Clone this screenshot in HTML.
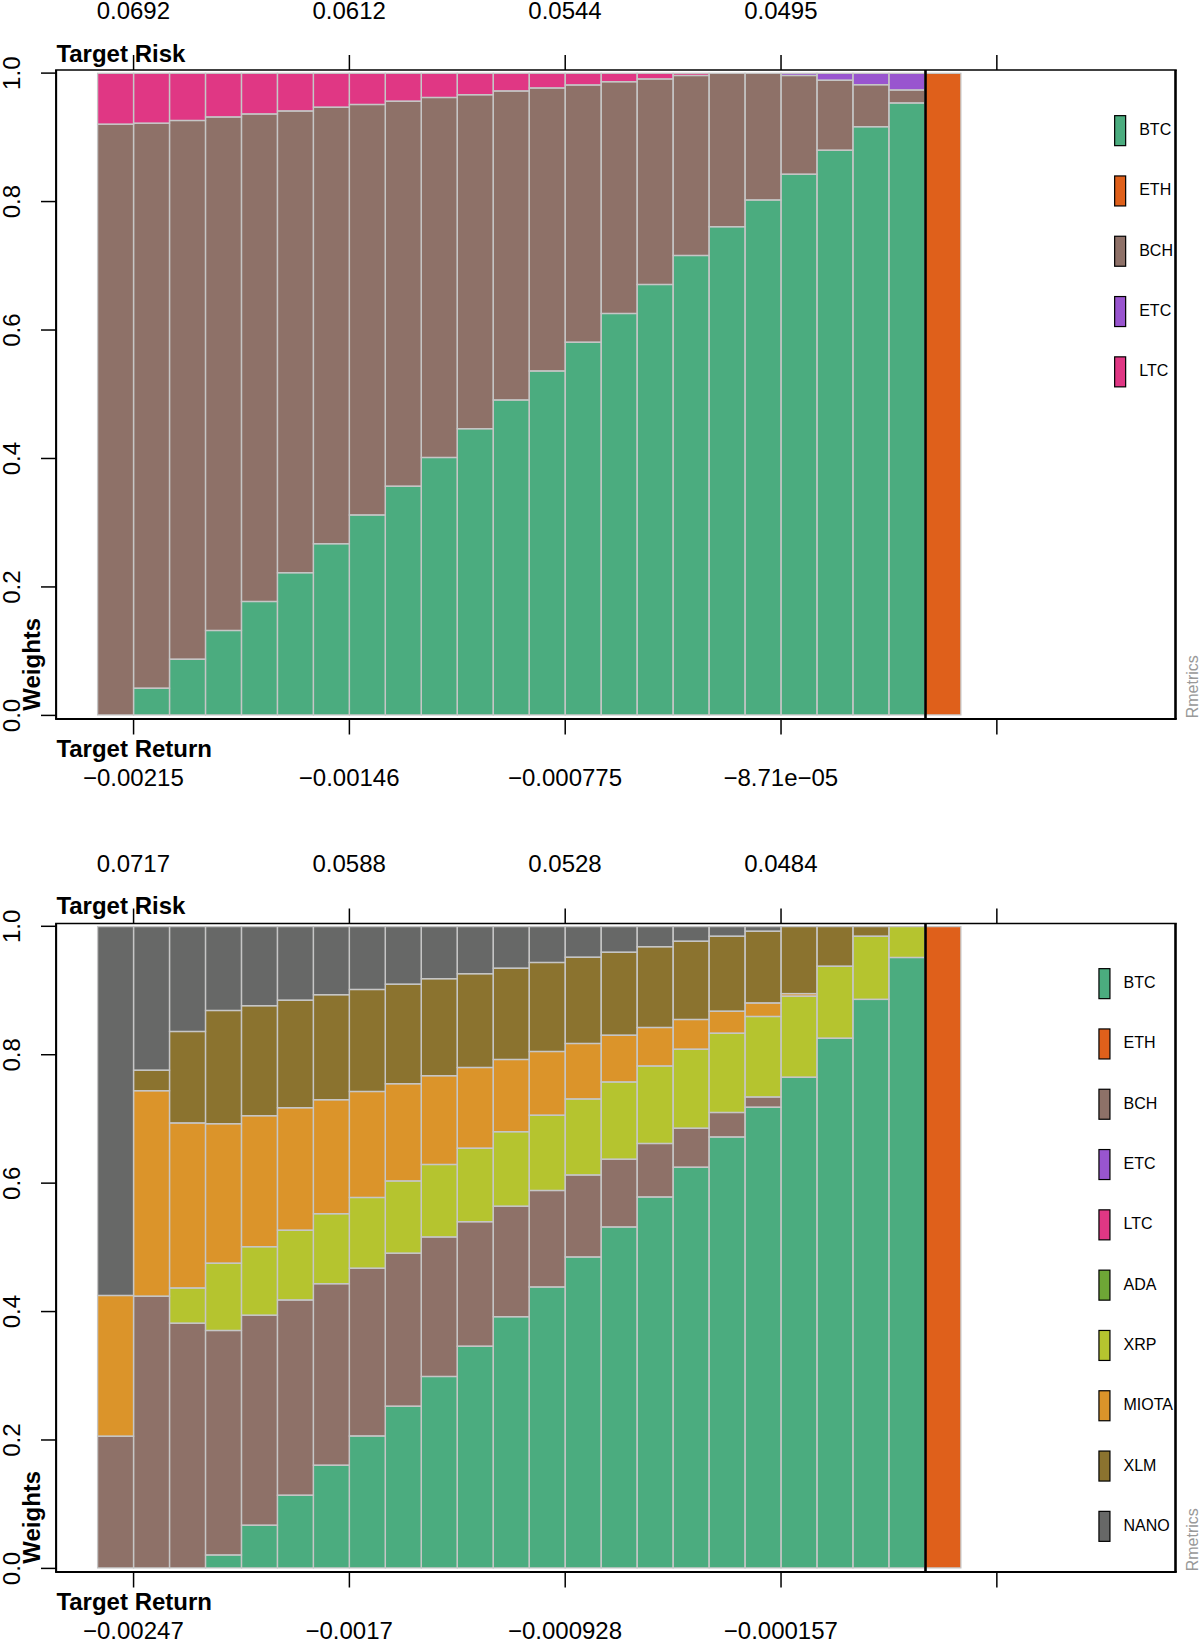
<!DOCTYPE html>
<html><head><meta charset="utf-8"><style>
html,body{margin:0;padding:0;background:#fff}svg{display:block}
text{font-family:"Liberation Sans",sans-serif;fill:#000}
.t{font-size:24px}.b{font-size:24px;font-weight:bold}.l{font-size:16px}.r{font-size:16px;fill:#999}
</style></head><body>
<svg width="1200" height="1641" viewBox="0 0 1200 1641">
<rect width="1200" height="1641" fill="#fff"/>
<rect x="97.6" y="73.3" width="35.97" height="50.95" fill="#E03784"/>
<rect x="97.6" y="124.25" width="35.97" height="590.65" fill="#8E7168"/>
<rect x="133.57" y="73.3" width="35.97" height="49.95" fill="#E03784"/>
<rect x="133.57" y="123.25" width="35.97" height="565" fill="#8E7168"/>
<rect x="133.57" y="688.25" width="35.97" height="26.65" fill="#4BAC7F"/>
<rect x="169.54" y="73.3" width="35.97" height="47.2" fill="#E03784"/>
<rect x="169.54" y="120.5" width="35.97" height="538.75" fill="#8E7168"/>
<rect x="169.54" y="659.25" width="35.97" height="55.65" fill="#4BAC7F"/>
<rect x="205.51" y="73.3" width="35.97" height="43.7" fill="#E03784"/>
<rect x="205.51" y="117" width="35.97" height="513.5" fill="#8E7168"/>
<rect x="205.51" y="630.5" width="35.97" height="84.4" fill="#4BAC7F"/>
<rect x="241.48" y="73.3" width="35.97" height="40.7" fill="#E03784"/>
<rect x="241.48" y="114" width="35.97" height="487.5" fill="#8E7168"/>
<rect x="241.48" y="601.5" width="35.97" height="113.4" fill="#4BAC7F"/>
<rect x="277.45" y="73.3" width="35.97" height="37.7" fill="#E03784"/>
<rect x="277.45" y="111" width="35.97" height="461.75" fill="#8E7168"/>
<rect x="277.45" y="572.75" width="35.97" height="142.15" fill="#4BAC7F"/>
<rect x="313.42" y="73.3" width="35.97" height="33.95" fill="#E03784"/>
<rect x="313.42" y="107.25" width="35.97" height="436.5" fill="#8E7168"/>
<rect x="313.42" y="543.75" width="35.97" height="171.15" fill="#4BAC7F"/>
<rect x="349.39" y="73.3" width="35.97" height="31.2" fill="#E03784"/>
<rect x="349.39" y="104.5" width="35.97" height="410.5" fill="#8E7168"/>
<rect x="349.39" y="515" width="35.97" height="199.9" fill="#4BAC7F"/>
<rect x="385.36" y="73.3" width="35.97" height="27.95" fill="#E03784"/>
<rect x="385.36" y="101.25" width="35.97" height="385" fill="#8E7168"/>
<rect x="385.36" y="486.25" width="35.97" height="228.65" fill="#4BAC7F"/>
<rect x="421.33" y="73.3" width="35.97" height="24.2" fill="#E03784"/>
<rect x="421.33" y="97.5" width="35.97" height="360" fill="#8E7168"/>
<rect x="421.33" y="457.5" width="35.97" height="257.4" fill="#4BAC7F"/>
<rect x="457.3" y="73.3" width="35.97" height="21.45" fill="#E03784"/>
<rect x="457.3" y="94.75" width="35.97" height="334" fill="#8E7168"/>
<rect x="457.3" y="428.75" width="35.97" height="286.15" fill="#4BAC7F"/>
<rect x="493.27" y="73.3" width="35.97" height="17.7" fill="#E03784"/>
<rect x="493.27" y="91" width="35.97" height="309" fill="#8E7168"/>
<rect x="493.27" y="400" width="35.97" height="314.9" fill="#4BAC7F"/>
<rect x="529.24" y="73.3" width="35.97" height="14.7" fill="#E03784"/>
<rect x="529.24" y="88" width="35.97" height="283" fill="#8E7168"/>
<rect x="529.24" y="371" width="35.97" height="343.9" fill="#4BAC7F"/>
<rect x="565.21" y="73.3" width="35.97" height="11.7" fill="#E03784"/>
<rect x="565.21" y="85" width="35.97" height="257.25" fill="#8E7168"/>
<rect x="565.21" y="342.25" width="35.97" height="372.65" fill="#4BAC7F"/>
<rect x="601.18" y="73.3" width="35.97" height="8.45" fill="#E03784"/>
<rect x="601.18" y="81.75" width="35.97" height="231.75" fill="#8E7168"/>
<rect x="601.18" y="313.5" width="35.97" height="401.4" fill="#4BAC7F"/>
<rect x="637.15" y="73.3" width="35.97" height="5.7" fill="#E03784"/>
<rect x="637.15" y="79" width="35.97" height="205.5" fill="#8E7168"/>
<rect x="637.15" y="284.5" width="35.97" height="430.4" fill="#4BAC7F"/>
<rect x="673.12" y="73.3" width="35.97" height="2.2" fill="#E03784"/>
<rect x="673.12" y="75.5" width="35.97" height="180" fill="#8E7168"/>
<rect x="673.12" y="255.5" width="35.97" height="459.4" fill="#4BAC7F"/>
<rect x="709.09" y="73.3" width="35.97" height="153.45" fill="#8E7168"/>
<rect x="709.09" y="226.75" width="35.97" height="488.15" fill="#4BAC7F"/>
<rect x="745.06" y="73.3" width="35.97" height="126.7" fill="#8E7168"/>
<rect x="745.06" y="200" width="35.97" height="514.9" fill="#4BAC7F"/>
<rect x="781.03" y="73.3" width="35.97" height="2.2" fill="#9955CF"/>
<rect x="781.03" y="75.5" width="35.97" height="98.75" fill="#8E7168"/>
<rect x="781.03" y="174.25" width="35.97" height="540.65" fill="#4BAC7F"/>
<rect x="817" y="73.3" width="35.97" height="6.95" fill="#9955CF"/>
<rect x="817" y="80.25" width="35.97" height="70" fill="#8E7168"/>
<rect x="817" y="150.25" width="35.97" height="564.65" fill="#4BAC7F"/>
<rect x="852.97" y="73.3" width="35.97" height="11.45" fill="#9955CF"/>
<rect x="852.97" y="84.75" width="35.97" height="42" fill="#8E7168"/>
<rect x="852.97" y="126.75" width="35.97" height="588.15" fill="#4BAC7F"/>
<rect x="888.94" y="73.3" width="35.97" height="16.7" fill="#9955CF"/>
<rect x="888.94" y="90" width="35.97" height="13" fill="#8E7168"/>
<rect x="888.94" y="103" width="35.97" height="611.9" fill="#4BAC7F"/>
<rect x="924.91" y="73.3" width="35.97" height="641.6" fill="#DF601B"/>
<rect x="97.6" y="73.3" width="35.97" height="50.95" fill="none" stroke="#c6c6c6" stroke-width="1.3"/>
<rect x="97.6" y="124.25" width="35.97" height="590.65" fill="none" stroke="#c6c6c6" stroke-width="1.3"/>
<rect x="133.57" y="73.3" width="35.97" height="49.95" fill="none" stroke="#c6c6c6" stroke-width="1.3"/>
<rect x="133.57" y="123.25" width="35.97" height="565" fill="none" stroke="#c6c6c6" stroke-width="1.3"/>
<rect x="133.57" y="688.25" width="35.97" height="26.65" fill="none" stroke="#c6c6c6" stroke-width="1.3"/>
<rect x="169.54" y="73.3" width="35.97" height="47.2" fill="none" stroke="#c6c6c6" stroke-width="1.3"/>
<rect x="169.54" y="120.5" width="35.97" height="538.75" fill="none" stroke="#c6c6c6" stroke-width="1.3"/>
<rect x="169.54" y="659.25" width="35.97" height="55.65" fill="none" stroke="#c6c6c6" stroke-width="1.3"/>
<rect x="205.51" y="73.3" width="35.97" height="43.7" fill="none" stroke="#c6c6c6" stroke-width="1.3"/>
<rect x="205.51" y="117" width="35.97" height="513.5" fill="none" stroke="#c6c6c6" stroke-width="1.3"/>
<rect x="205.51" y="630.5" width="35.97" height="84.4" fill="none" stroke="#c6c6c6" stroke-width="1.3"/>
<rect x="241.48" y="73.3" width="35.97" height="40.7" fill="none" stroke="#c6c6c6" stroke-width="1.3"/>
<rect x="241.48" y="114" width="35.97" height="487.5" fill="none" stroke="#c6c6c6" stroke-width="1.3"/>
<rect x="241.48" y="601.5" width="35.97" height="113.4" fill="none" stroke="#c6c6c6" stroke-width="1.3"/>
<rect x="277.45" y="73.3" width="35.97" height="37.7" fill="none" stroke="#c6c6c6" stroke-width="1.3"/>
<rect x="277.45" y="111" width="35.97" height="461.75" fill="none" stroke="#c6c6c6" stroke-width="1.3"/>
<rect x="277.45" y="572.75" width="35.97" height="142.15" fill="none" stroke="#c6c6c6" stroke-width="1.3"/>
<rect x="313.42" y="73.3" width="35.97" height="33.95" fill="none" stroke="#c6c6c6" stroke-width="1.3"/>
<rect x="313.42" y="107.25" width="35.97" height="436.5" fill="none" stroke="#c6c6c6" stroke-width="1.3"/>
<rect x="313.42" y="543.75" width="35.97" height="171.15" fill="none" stroke="#c6c6c6" stroke-width="1.3"/>
<rect x="349.39" y="73.3" width="35.97" height="31.2" fill="none" stroke="#c6c6c6" stroke-width="1.3"/>
<rect x="349.39" y="104.5" width="35.97" height="410.5" fill="none" stroke="#c6c6c6" stroke-width="1.3"/>
<rect x="349.39" y="515" width="35.97" height="199.9" fill="none" stroke="#c6c6c6" stroke-width="1.3"/>
<rect x="385.36" y="73.3" width="35.97" height="27.95" fill="none" stroke="#c6c6c6" stroke-width="1.3"/>
<rect x="385.36" y="101.25" width="35.97" height="385" fill="none" stroke="#c6c6c6" stroke-width="1.3"/>
<rect x="385.36" y="486.25" width="35.97" height="228.65" fill="none" stroke="#c6c6c6" stroke-width="1.3"/>
<rect x="421.33" y="73.3" width="35.97" height="24.2" fill="none" stroke="#c6c6c6" stroke-width="1.3"/>
<rect x="421.33" y="97.5" width="35.97" height="360" fill="none" stroke="#c6c6c6" stroke-width="1.3"/>
<rect x="421.33" y="457.5" width="35.97" height="257.4" fill="none" stroke="#c6c6c6" stroke-width="1.3"/>
<rect x="457.3" y="73.3" width="35.97" height="21.45" fill="none" stroke="#c6c6c6" stroke-width="1.3"/>
<rect x="457.3" y="94.75" width="35.97" height="334" fill="none" stroke="#c6c6c6" stroke-width="1.3"/>
<rect x="457.3" y="428.75" width="35.97" height="286.15" fill="none" stroke="#c6c6c6" stroke-width="1.3"/>
<rect x="493.27" y="73.3" width="35.97" height="17.7" fill="none" stroke="#c6c6c6" stroke-width="1.3"/>
<rect x="493.27" y="91" width="35.97" height="309" fill="none" stroke="#c6c6c6" stroke-width="1.3"/>
<rect x="493.27" y="400" width="35.97" height="314.9" fill="none" stroke="#c6c6c6" stroke-width="1.3"/>
<rect x="529.24" y="73.3" width="35.97" height="14.7" fill="none" stroke="#c6c6c6" stroke-width="1.3"/>
<rect x="529.24" y="88" width="35.97" height="283" fill="none" stroke="#c6c6c6" stroke-width="1.3"/>
<rect x="529.24" y="371" width="35.97" height="343.9" fill="none" stroke="#c6c6c6" stroke-width="1.3"/>
<rect x="565.21" y="73.3" width="35.97" height="11.7" fill="none" stroke="#c6c6c6" stroke-width="1.3"/>
<rect x="565.21" y="85" width="35.97" height="257.25" fill="none" stroke="#c6c6c6" stroke-width="1.3"/>
<rect x="565.21" y="342.25" width="35.97" height="372.65" fill="none" stroke="#c6c6c6" stroke-width="1.3"/>
<rect x="601.18" y="73.3" width="35.97" height="8.45" fill="none" stroke="#c6c6c6" stroke-width="1.3"/>
<rect x="601.18" y="81.75" width="35.97" height="231.75" fill="none" stroke="#c6c6c6" stroke-width="1.3"/>
<rect x="601.18" y="313.5" width="35.97" height="401.4" fill="none" stroke="#c6c6c6" stroke-width="1.3"/>
<rect x="637.15" y="73.3" width="35.97" height="5.7" fill="none" stroke="#c6c6c6" stroke-width="1.3"/>
<rect x="637.15" y="79" width="35.97" height="205.5" fill="none" stroke="#c6c6c6" stroke-width="1.3"/>
<rect x="637.15" y="284.5" width="35.97" height="430.4" fill="none" stroke="#c6c6c6" stroke-width="1.3"/>
<rect x="673.12" y="73.3" width="35.97" height="2.2" fill="none" stroke="#c6c6c6" stroke-width="1.3"/>
<rect x="673.12" y="75.5" width="35.97" height="180" fill="none" stroke="#c6c6c6" stroke-width="1.3"/>
<rect x="673.12" y="255.5" width="35.97" height="459.4" fill="none" stroke="#c6c6c6" stroke-width="1.3"/>
<rect x="709.09" y="73.3" width="35.97" height="153.45" fill="none" stroke="#c6c6c6" stroke-width="1.3"/>
<rect x="709.09" y="226.75" width="35.97" height="488.15" fill="none" stroke="#c6c6c6" stroke-width="1.3"/>
<rect x="745.06" y="73.3" width="35.97" height="126.7" fill="none" stroke="#c6c6c6" stroke-width="1.3"/>
<rect x="745.06" y="200" width="35.97" height="514.9" fill="none" stroke="#c6c6c6" stroke-width="1.3"/>
<rect x="781.03" y="73.3" width="35.97" height="2.2" fill="none" stroke="#c6c6c6" stroke-width="1.3"/>
<rect x="781.03" y="75.5" width="35.97" height="98.75" fill="none" stroke="#c6c6c6" stroke-width="1.3"/>
<rect x="781.03" y="174.25" width="35.97" height="540.65" fill="none" stroke="#c6c6c6" stroke-width="1.3"/>
<rect x="817" y="73.3" width="35.97" height="6.95" fill="none" stroke="#c6c6c6" stroke-width="1.3"/>
<rect x="817" y="80.25" width="35.97" height="70" fill="none" stroke="#c6c6c6" stroke-width="1.3"/>
<rect x="817" y="150.25" width="35.97" height="564.65" fill="none" stroke="#c6c6c6" stroke-width="1.3"/>
<rect x="852.97" y="73.3" width="35.97" height="11.45" fill="none" stroke="#c6c6c6" stroke-width="1.3"/>
<rect x="852.97" y="84.75" width="35.97" height="42" fill="none" stroke="#c6c6c6" stroke-width="1.3"/>
<rect x="852.97" y="126.75" width="35.97" height="588.15" fill="none" stroke="#c6c6c6" stroke-width="1.3"/>
<rect x="888.94" y="73.3" width="35.97" height="16.7" fill="none" stroke="#c6c6c6" stroke-width="1.3"/>
<rect x="888.94" y="90" width="35.97" height="13" fill="none" stroke="#c6c6c6" stroke-width="1.3"/>
<rect x="888.94" y="103" width="35.97" height="611.9" fill="none" stroke="#c6c6c6" stroke-width="1.3"/>
<rect x="924.91" y="73.3" width="35.97" height="641.6" fill="none" stroke="#c6c6c6" stroke-width="1.3"/>
<line x1="55.1" y1="70" x2="1176.8" y2="70" stroke="#000" stroke-width="1.6"/>
<line x1="55.1" y1="719" x2="1176.8" y2="719" stroke="#000" stroke-width="2"/>
<line x1="56.1" y1="70" x2="56.1" y2="719" stroke="#000" stroke-width="2.1"/>
<line x1="1175.5" y1="70" x2="1175.5" y2="719" stroke="#000" stroke-width="2.6"/>
<line x1="925.5" y1="70" x2="925.5" y2="719" stroke="#000" stroke-width="2.6"/>
<line x1="133.57" y1="55" x2="133.57" y2="70" stroke="#000" stroke-width="1.5"/>
<line x1="133.57" y1="719" x2="133.57" y2="734.5" stroke="#000" stroke-width="1.5"/>
<line x1="349.39" y1="55" x2="349.39" y2="70" stroke="#000" stroke-width="1.5"/>
<line x1="349.39" y1="719" x2="349.39" y2="734.5" stroke="#000" stroke-width="1.5"/>
<line x1="565.21" y1="55" x2="565.21" y2="70" stroke="#000" stroke-width="1.5"/>
<line x1="565.21" y1="719" x2="565.21" y2="734.5" stroke="#000" stroke-width="1.5"/>
<line x1="781.03" y1="55" x2="781.03" y2="70" stroke="#000" stroke-width="1.5"/>
<line x1="781.03" y1="719" x2="781.03" y2="734.5" stroke="#000" stroke-width="1.5"/>
<line x1="996.85" y1="55" x2="996.85" y2="70" stroke="#000" stroke-width="1.5"/>
<line x1="996.85" y1="719" x2="996.85" y2="734.5" stroke="#000" stroke-width="1.5"/>
<text x="133.37" y="19" text-anchor="middle" class="t">0.0692</text>
<text x="133.37" y="785.7" text-anchor="middle" class="t">−0.00215</text>
<text x="349.19" y="19" text-anchor="middle" class="t">0.0612</text>
<text x="349.19" y="785.7" text-anchor="middle" class="t">−0.00146</text>
<text x="565.01" y="19" text-anchor="middle" class="t">0.0544</text>
<text x="565.01" y="785.7" text-anchor="middle" class="t">−0.000775</text>
<text x="780.8299999999999" y="19" text-anchor="middle" class="t">0.0495</text>
<text x="780.8299999999999" y="785.7" text-anchor="middle" class="t">−8.71e−05</text>
<line x1="41" y1="715.4" x2="56" y2="715.4" stroke="#000" stroke-width="1.5"/>
<text transform="translate(19.5,715.5) rotate(-90)" text-anchor="middle" class="t">0.0</text>
<line x1="41" y1="586.94" x2="56" y2="586.94" stroke="#000" stroke-width="1.5"/>
<text transform="translate(19.5,587.04) rotate(-90)" text-anchor="middle" class="t">0.2</text>
<line x1="41" y1="458.48" x2="56" y2="458.48" stroke="#000" stroke-width="1.5"/>
<text transform="translate(19.5,458.58) rotate(-90)" text-anchor="middle" class="t">0.4</text>
<line x1="41" y1="330.02" x2="56" y2="330.02" stroke="#000" stroke-width="1.5"/>
<text transform="translate(19.5,330.12) rotate(-90)" text-anchor="middle" class="t">0.6</text>
<line x1="41" y1="201.56" x2="56" y2="201.56" stroke="#000" stroke-width="1.5"/>
<text transform="translate(19.5,201.66) rotate(-90)" text-anchor="middle" class="t">0.8</text>
<line x1="41" y1="73.1" x2="56" y2="73.1" stroke="#000" stroke-width="1.5"/>
<text transform="translate(19.5,73.2) rotate(-90)" text-anchor="middle" class="t">1.0</text>
<text x="56.4" y="61.5" class="b">Target Risk</text>
<text x="56.4" y="757.2" class="b">Target Return</text>
<text transform="translate(40.4,710.7) rotate(-90)" class="b">Weights</text>
<text transform="translate(1198,718.3) rotate(-90)" class="r">Rmetrics</text>
<rect x="1114.65" y="115.65" width="11" height="30" fill="#4BAC7F" stroke="#000" stroke-width="1.2"/>
<text x="1139.2" y="135.1" class="l">BTC</text>
<rect x="1114.65" y="175.95" width="11" height="30" fill="#DF601B" stroke="#000" stroke-width="1.2"/>
<text x="1139.2" y="195.4" class="l">ETH</text>
<rect x="1114.65" y="236.25" width="11" height="30" fill="#8E7168" stroke="#000" stroke-width="1.2"/>
<text x="1139.2" y="255.7" class="l">BCH</text>
<rect x="1114.65" y="296.55" width="11" height="30" fill="#9955CF" stroke="#000" stroke-width="1.2"/>
<text x="1139.2" y="316" class="l">ETC</text>
<rect x="1114.65" y="356.85" width="11" height="30" fill="#E03784" stroke="#000" stroke-width="1.2"/>
<text x="1139.2" y="376.3" class="l">LTC</text>
<rect x="97.6" y="926.6" width="35.97" height="368.9" fill="#676867"/>
<rect x="97.6" y="1295.5" width="35.97" height="140.75" fill="#DB942A"/>
<rect x="97.6" y="1436.25" width="35.97" height="131.65" fill="#8E7168"/>
<rect x="133.57" y="926.6" width="35.97" height="143.65" fill="#676867"/>
<rect x="133.57" y="1070.25" width="35.97" height="20.5" fill="#8B732F"/>
<rect x="133.57" y="1090.75" width="35.97" height="205.5" fill="#DB942A"/>
<rect x="133.57" y="1296.25" width="35.97" height="271.65" fill="#8E7168"/>
<rect x="169.54" y="926.6" width="35.97" height="104.9" fill="#676867"/>
<rect x="169.54" y="1031.5" width="35.97" height="91.5" fill="#8B732F"/>
<rect x="169.54" y="1123" width="35.97" height="165" fill="#DB942A"/>
<rect x="169.54" y="1288" width="35.97" height="35.25" fill="#B5C42F"/>
<rect x="169.54" y="1323.25" width="35.97" height="244.65" fill="#8E7168"/>
<rect x="205.51" y="926.6" width="35.97" height="83.9" fill="#676867"/>
<rect x="205.51" y="1010.5" width="35.97" height="113.25" fill="#8B732F"/>
<rect x="205.51" y="1123.75" width="35.97" height="139.5" fill="#DB942A"/>
<rect x="205.51" y="1263.25" width="35.97" height="67.25" fill="#B5C42F"/>
<rect x="205.51" y="1330.5" width="35.97" height="224.5" fill="#8E7168"/>
<rect x="205.51" y="1555" width="35.97" height="12.9" fill="#4BAC7F"/>
<rect x="241.48" y="926.6" width="35.97" height="79.15" fill="#676867"/>
<rect x="241.48" y="1005.75" width="35.97" height="110" fill="#8B732F"/>
<rect x="241.48" y="1115.75" width="35.97" height="131" fill="#DB942A"/>
<rect x="241.48" y="1246.75" width="35.97" height="68.5" fill="#B5C42F"/>
<rect x="241.48" y="1315.25" width="35.97" height="210" fill="#8E7168"/>
<rect x="241.48" y="1525.25" width="35.97" height="42.65" fill="#4BAC7F"/>
<rect x="277.45" y="926.6" width="35.97" height="73.65" fill="#676867"/>
<rect x="277.45" y="1000.25" width="35.97" height="107.5" fill="#8B732F"/>
<rect x="277.45" y="1107.75" width="35.97" height="122.5" fill="#DB942A"/>
<rect x="277.45" y="1230.25" width="35.97" height="69.75" fill="#B5C42F"/>
<rect x="277.45" y="1300" width="35.97" height="195.25" fill="#8E7168"/>
<rect x="277.45" y="1495.25" width="35.97" height="72.65" fill="#4BAC7F"/>
<rect x="313.42" y="926.6" width="35.97" height="68.15" fill="#676867"/>
<rect x="313.42" y="994.75" width="35.97" height="105" fill="#8B732F"/>
<rect x="313.42" y="1099.75" width="35.97" height="114" fill="#DB942A"/>
<rect x="313.42" y="1213.75" width="35.97" height="70" fill="#B5C42F"/>
<rect x="313.42" y="1283.75" width="35.97" height="181.5" fill="#8E7168"/>
<rect x="313.42" y="1465.25" width="35.97" height="102.65" fill="#4BAC7F"/>
<rect x="349.39" y="926.6" width="35.97" height="62.9" fill="#676867"/>
<rect x="349.39" y="989.5" width="35.97" height="102" fill="#8B732F"/>
<rect x="349.39" y="1091.5" width="35.97" height="106" fill="#DB942A"/>
<rect x="349.39" y="1197.5" width="35.97" height="70.75" fill="#B5C42F"/>
<rect x="349.39" y="1268.25" width="35.97" height="167.75" fill="#8E7168"/>
<rect x="349.39" y="1436" width="35.97" height="131.9" fill="#4BAC7F"/>
<rect x="385.36" y="926.6" width="35.97" height="57.65" fill="#676867"/>
<rect x="385.36" y="984.25" width="35.97" height="99.5" fill="#8B732F"/>
<rect x="385.36" y="1083.75" width="35.97" height="97.25" fill="#DB942A"/>
<rect x="385.36" y="1181" width="35.97" height="72.25" fill="#B5C42F"/>
<rect x="385.36" y="1253.25" width="35.97" height="153" fill="#8E7168"/>
<rect x="385.36" y="1406.25" width="35.97" height="161.65" fill="#4BAC7F"/>
<rect x="421.33" y="926.6" width="35.97" height="52.15" fill="#676867"/>
<rect x="421.33" y="978.75" width="35.97" height="97" fill="#8B732F"/>
<rect x="421.33" y="1075.75" width="35.97" height="88.75" fill="#DB942A"/>
<rect x="421.33" y="1164.5" width="35.97" height="72.5" fill="#B5C42F"/>
<rect x="421.33" y="1237" width="35.97" height="139.5" fill="#8E7168"/>
<rect x="421.33" y="1376.5" width="35.97" height="191.4" fill="#4BAC7F"/>
<rect x="457.3" y="926.6" width="35.97" height="47.15" fill="#676867"/>
<rect x="457.3" y="973.75" width="35.97" height="93.75" fill="#8B732F"/>
<rect x="457.3" y="1067.5" width="35.97" height="80.75" fill="#DB942A"/>
<rect x="457.3" y="1148.25" width="35.97" height="73.5" fill="#B5C42F"/>
<rect x="457.3" y="1221.75" width="35.97" height="124.5" fill="#8E7168"/>
<rect x="457.3" y="1346.25" width="35.97" height="221.65" fill="#4BAC7F"/>
<rect x="493.27" y="926.6" width="35.97" height="41.65" fill="#676867"/>
<rect x="493.27" y="968.25" width="35.97" height="91.25" fill="#8B732F"/>
<rect x="493.27" y="1059.5" width="35.97" height="72.25" fill="#DB942A"/>
<rect x="493.27" y="1131.75" width="35.97" height="74.5" fill="#B5C42F"/>
<rect x="493.27" y="1206.25" width="35.97" height="110.5" fill="#8E7168"/>
<rect x="493.27" y="1316.75" width="35.97" height="251.15" fill="#4BAC7F"/>
<rect x="529.24" y="926.6" width="35.97" height="35.9" fill="#676867"/>
<rect x="529.24" y="962.5" width="35.97" height="89" fill="#8B732F"/>
<rect x="529.24" y="1051.5" width="35.97" height="63.75" fill="#DB942A"/>
<rect x="529.24" y="1115.25" width="35.97" height="75.25" fill="#B5C42F"/>
<rect x="529.24" y="1190.5" width="35.97" height="96.5" fill="#8E7168"/>
<rect x="529.24" y="1287" width="35.97" height="280.9" fill="#4BAC7F"/>
<rect x="565.21" y="926.6" width="35.97" height="30.65" fill="#676867"/>
<rect x="565.21" y="957.25" width="35.97" height="86.25" fill="#8B732F"/>
<rect x="565.21" y="1043.5" width="35.97" height="55.5" fill="#DB942A"/>
<rect x="565.21" y="1099" width="35.97" height="76" fill="#B5C42F"/>
<rect x="565.21" y="1175" width="35.97" height="82" fill="#8E7168"/>
<rect x="565.21" y="1257" width="35.97" height="310.9" fill="#4BAC7F"/>
<rect x="601.18" y="926.6" width="35.97" height="25.65" fill="#676867"/>
<rect x="601.18" y="952.25" width="35.97" height="83" fill="#8B732F"/>
<rect x="601.18" y="1035.25" width="35.97" height="46.75" fill="#DB942A"/>
<rect x="601.18" y="1082" width="35.97" height="77.25" fill="#B5C42F"/>
<rect x="601.18" y="1159.25" width="35.97" height="67.75" fill="#8E7168"/>
<rect x="601.18" y="1227" width="35.97" height="340.9" fill="#4BAC7F"/>
<rect x="637.15" y="926.6" width="35.97" height="20.15" fill="#676867"/>
<rect x="637.15" y="946.75" width="35.97" height="80.75" fill="#8B732F"/>
<rect x="637.15" y="1027.5" width="35.97" height="38.5" fill="#DB942A"/>
<rect x="637.15" y="1066" width="35.97" height="77.5" fill="#B5C42F"/>
<rect x="637.15" y="1143.5" width="35.97" height="53.5" fill="#8E7168"/>
<rect x="637.15" y="1197" width="35.97" height="370.9" fill="#4BAC7F"/>
<rect x="673.12" y="926.6" width="35.97" height="14.65" fill="#676867"/>
<rect x="673.12" y="941.25" width="35.97" height="78.25" fill="#8B732F"/>
<rect x="673.12" y="1019.5" width="35.97" height="29.75" fill="#DB942A"/>
<rect x="673.12" y="1049.25" width="35.97" height="79" fill="#B5C42F"/>
<rect x="673.12" y="1128.25" width="35.97" height="39" fill="#8E7168"/>
<rect x="673.12" y="1167.25" width="35.97" height="400.65" fill="#4BAC7F"/>
<rect x="709.09" y="926.6" width="35.97" height="9.65" fill="#676867"/>
<rect x="709.09" y="936.25" width="35.97" height="75" fill="#8B732F"/>
<rect x="709.09" y="1011.25" width="35.97" height="22" fill="#DB942A"/>
<rect x="709.09" y="1033.25" width="35.97" height="79.25" fill="#B5C42F"/>
<rect x="709.09" y="1112.5" width="35.97" height="24.5" fill="#8E7168"/>
<rect x="709.09" y="1137" width="35.97" height="430.9" fill="#4BAC7F"/>
<rect x="745.06" y="926.6" width="35.97" height="4.65" fill="#676867"/>
<rect x="745.06" y="931.25" width="35.97" height="71.75" fill="#8B732F"/>
<rect x="745.06" y="1003" width="35.97" height="13.5" fill="#DB942A"/>
<rect x="745.06" y="1016.5" width="35.97" height="80.5" fill="#B5C42F"/>
<rect x="745.06" y="1097" width="35.97" height="10.25" fill="#8E7168"/>
<rect x="745.06" y="1107.25" width="35.97" height="460.65" fill="#4BAC7F"/>
<rect x="781.03" y="926.6" width="35.97" height="67" fill="#8B732F"/>
<rect x="781.03" y="993.6" width="35.97" height="2.6" fill="#DB942A"/>
<rect x="781.03" y="996.2" width="35.97" height="81.05" fill="#B5C42F"/>
<rect x="781.03" y="1077.25" width="35.97" height="490.65" fill="#4BAC7F"/>
<rect x="817" y="926.6" width="35.97" height="39.65" fill="#8B732F"/>
<rect x="817" y="966.25" width="35.97" height="72" fill="#B5C42F"/>
<rect x="817" y="1038.25" width="35.97" height="529.65" fill="#4BAC7F"/>
<rect x="852.97" y="926.6" width="35.97" height="9.65" fill="#8B732F"/>
<rect x="852.97" y="936.25" width="35.97" height="63.15" fill="#B5C42F"/>
<rect x="852.97" y="999.4" width="35.97" height="568.5" fill="#4BAC7F"/>
<rect x="888.94" y="926.6" width="35.97" height="30.9" fill="#B5C42F"/>
<rect x="888.94" y="957.5" width="35.97" height="610.4" fill="#4BAC7F"/>
<rect x="924.91" y="926.6" width="35.97" height="641.3" fill="#DF601B"/>
<rect x="97.6" y="926.6" width="35.97" height="368.9" fill="none" stroke="#c6c6c6" stroke-width="1.3"/>
<rect x="97.6" y="1295.5" width="35.97" height="140.75" fill="none" stroke="#c6c6c6" stroke-width="1.3"/>
<rect x="97.6" y="1436.25" width="35.97" height="131.65" fill="none" stroke="#c6c6c6" stroke-width="1.3"/>
<rect x="133.57" y="926.6" width="35.97" height="143.65" fill="none" stroke="#c6c6c6" stroke-width="1.3"/>
<rect x="133.57" y="1070.25" width="35.97" height="20.5" fill="none" stroke="#c6c6c6" stroke-width="1.3"/>
<rect x="133.57" y="1090.75" width="35.97" height="205.5" fill="none" stroke="#c6c6c6" stroke-width="1.3"/>
<rect x="133.57" y="1296.25" width="35.97" height="271.65" fill="none" stroke="#c6c6c6" stroke-width="1.3"/>
<rect x="169.54" y="926.6" width="35.97" height="104.9" fill="none" stroke="#c6c6c6" stroke-width="1.3"/>
<rect x="169.54" y="1031.5" width="35.97" height="91.5" fill="none" stroke="#c6c6c6" stroke-width="1.3"/>
<rect x="169.54" y="1123" width="35.97" height="165" fill="none" stroke="#c6c6c6" stroke-width="1.3"/>
<rect x="169.54" y="1288" width="35.97" height="35.25" fill="none" stroke="#c6c6c6" stroke-width="1.3"/>
<rect x="169.54" y="1323.25" width="35.97" height="244.65" fill="none" stroke="#c6c6c6" stroke-width="1.3"/>
<rect x="205.51" y="926.6" width="35.97" height="83.9" fill="none" stroke="#c6c6c6" stroke-width="1.3"/>
<rect x="205.51" y="1010.5" width="35.97" height="113.25" fill="none" stroke="#c6c6c6" stroke-width="1.3"/>
<rect x="205.51" y="1123.75" width="35.97" height="139.5" fill="none" stroke="#c6c6c6" stroke-width="1.3"/>
<rect x="205.51" y="1263.25" width="35.97" height="67.25" fill="none" stroke="#c6c6c6" stroke-width="1.3"/>
<rect x="205.51" y="1330.5" width="35.97" height="224.5" fill="none" stroke="#c6c6c6" stroke-width="1.3"/>
<rect x="205.51" y="1555" width="35.97" height="12.9" fill="none" stroke="#c6c6c6" stroke-width="1.3"/>
<rect x="241.48" y="926.6" width="35.97" height="79.15" fill="none" stroke="#c6c6c6" stroke-width="1.3"/>
<rect x="241.48" y="1005.75" width="35.97" height="110" fill="none" stroke="#c6c6c6" stroke-width="1.3"/>
<rect x="241.48" y="1115.75" width="35.97" height="131" fill="none" stroke="#c6c6c6" stroke-width="1.3"/>
<rect x="241.48" y="1246.75" width="35.97" height="68.5" fill="none" stroke="#c6c6c6" stroke-width="1.3"/>
<rect x="241.48" y="1315.25" width="35.97" height="210" fill="none" stroke="#c6c6c6" stroke-width="1.3"/>
<rect x="241.48" y="1525.25" width="35.97" height="42.65" fill="none" stroke="#c6c6c6" stroke-width="1.3"/>
<rect x="277.45" y="926.6" width="35.97" height="73.65" fill="none" stroke="#c6c6c6" stroke-width="1.3"/>
<rect x="277.45" y="1000.25" width="35.97" height="107.5" fill="none" stroke="#c6c6c6" stroke-width="1.3"/>
<rect x="277.45" y="1107.75" width="35.97" height="122.5" fill="none" stroke="#c6c6c6" stroke-width="1.3"/>
<rect x="277.45" y="1230.25" width="35.97" height="69.75" fill="none" stroke="#c6c6c6" stroke-width="1.3"/>
<rect x="277.45" y="1300" width="35.97" height="195.25" fill="none" stroke="#c6c6c6" stroke-width="1.3"/>
<rect x="277.45" y="1495.25" width="35.97" height="72.65" fill="none" stroke="#c6c6c6" stroke-width="1.3"/>
<rect x="313.42" y="926.6" width="35.97" height="68.15" fill="none" stroke="#c6c6c6" stroke-width="1.3"/>
<rect x="313.42" y="994.75" width="35.97" height="105" fill="none" stroke="#c6c6c6" stroke-width="1.3"/>
<rect x="313.42" y="1099.75" width="35.97" height="114" fill="none" stroke="#c6c6c6" stroke-width="1.3"/>
<rect x="313.42" y="1213.75" width="35.97" height="70" fill="none" stroke="#c6c6c6" stroke-width="1.3"/>
<rect x="313.42" y="1283.75" width="35.97" height="181.5" fill="none" stroke="#c6c6c6" stroke-width="1.3"/>
<rect x="313.42" y="1465.25" width="35.97" height="102.65" fill="none" stroke="#c6c6c6" stroke-width="1.3"/>
<rect x="349.39" y="926.6" width="35.97" height="62.9" fill="none" stroke="#c6c6c6" stroke-width="1.3"/>
<rect x="349.39" y="989.5" width="35.97" height="102" fill="none" stroke="#c6c6c6" stroke-width="1.3"/>
<rect x="349.39" y="1091.5" width="35.97" height="106" fill="none" stroke="#c6c6c6" stroke-width="1.3"/>
<rect x="349.39" y="1197.5" width="35.97" height="70.75" fill="none" stroke="#c6c6c6" stroke-width="1.3"/>
<rect x="349.39" y="1268.25" width="35.97" height="167.75" fill="none" stroke="#c6c6c6" stroke-width="1.3"/>
<rect x="349.39" y="1436" width="35.97" height="131.9" fill="none" stroke="#c6c6c6" stroke-width="1.3"/>
<rect x="385.36" y="926.6" width="35.97" height="57.65" fill="none" stroke="#c6c6c6" stroke-width="1.3"/>
<rect x="385.36" y="984.25" width="35.97" height="99.5" fill="none" stroke="#c6c6c6" stroke-width="1.3"/>
<rect x="385.36" y="1083.75" width="35.97" height="97.25" fill="none" stroke="#c6c6c6" stroke-width="1.3"/>
<rect x="385.36" y="1181" width="35.97" height="72.25" fill="none" stroke="#c6c6c6" stroke-width="1.3"/>
<rect x="385.36" y="1253.25" width="35.97" height="153" fill="none" stroke="#c6c6c6" stroke-width="1.3"/>
<rect x="385.36" y="1406.25" width="35.97" height="161.65" fill="none" stroke="#c6c6c6" stroke-width="1.3"/>
<rect x="421.33" y="926.6" width="35.97" height="52.15" fill="none" stroke="#c6c6c6" stroke-width="1.3"/>
<rect x="421.33" y="978.75" width="35.97" height="97" fill="none" stroke="#c6c6c6" stroke-width="1.3"/>
<rect x="421.33" y="1075.75" width="35.97" height="88.75" fill="none" stroke="#c6c6c6" stroke-width="1.3"/>
<rect x="421.33" y="1164.5" width="35.97" height="72.5" fill="none" stroke="#c6c6c6" stroke-width="1.3"/>
<rect x="421.33" y="1237" width="35.97" height="139.5" fill="none" stroke="#c6c6c6" stroke-width="1.3"/>
<rect x="421.33" y="1376.5" width="35.97" height="191.4" fill="none" stroke="#c6c6c6" stroke-width="1.3"/>
<rect x="457.3" y="926.6" width="35.97" height="47.15" fill="none" stroke="#c6c6c6" stroke-width="1.3"/>
<rect x="457.3" y="973.75" width="35.97" height="93.75" fill="none" stroke="#c6c6c6" stroke-width="1.3"/>
<rect x="457.3" y="1067.5" width="35.97" height="80.75" fill="none" stroke="#c6c6c6" stroke-width="1.3"/>
<rect x="457.3" y="1148.25" width="35.97" height="73.5" fill="none" stroke="#c6c6c6" stroke-width="1.3"/>
<rect x="457.3" y="1221.75" width="35.97" height="124.5" fill="none" stroke="#c6c6c6" stroke-width="1.3"/>
<rect x="457.3" y="1346.25" width="35.97" height="221.65" fill="none" stroke="#c6c6c6" stroke-width="1.3"/>
<rect x="493.27" y="926.6" width="35.97" height="41.65" fill="none" stroke="#c6c6c6" stroke-width="1.3"/>
<rect x="493.27" y="968.25" width="35.97" height="91.25" fill="none" stroke="#c6c6c6" stroke-width="1.3"/>
<rect x="493.27" y="1059.5" width="35.97" height="72.25" fill="none" stroke="#c6c6c6" stroke-width="1.3"/>
<rect x="493.27" y="1131.75" width="35.97" height="74.5" fill="none" stroke="#c6c6c6" stroke-width="1.3"/>
<rect x="493.27" y="1206.25" width="35.97" height="110.5" fill="none" stroke="#c6c6c6" stroke-width="1.3"/>
<rect x="493.27" y="1316.75" width="35.97" height="251.15" fill="none" stroke="#c6c6c6" stroke-width="1.3"/>
<rect x="529.24" y="926.6" width="35.97" height="35.9" fill="none" stroke="#c6c6c6" stroke-width="1.3"/>
<rect x="529.24" y="962.5" width="35.97" height="89" fill="none" stroke="#c6c6c6" stroke-width="1.3"/>
<rect x="529.24" y="1051.5" width="35.97" height="63.75" fill="none" stroke="#c6c6c6" stroke-width="1.3"/>
<rect x="529.24" y="1115.25" width="35.97" height="75.25" fill="none" stroke="#c6c6c6" stroke-width="1.3"/>
<rect x="529.24" y="1190.5" width="35.97" height="96.5" fill="none" stroke="#c6c6c6" stroke-width="1.3"/>
<rect x="529.24" y="1287" width="35.97" height="280.9" fill="none" stroke="#c6c6c6" stroke-width="1.3"/>
<rect x="565.21" y="926.6" width="35.97" height="30.65" fill="none" stroke="#c6c6c6" stroke-width="1.3"/>
<rect x="565.21" y="957.25" width="35.97" height="86.25" fill="none" stroke="#c6c6c6" stroke-width="1.3"/>
<rect x="565.21" y="1043.5" width="35.97" height="55.5" fill="none" stroke="#c6c6c6" stroke-width="1.3"/>
<rect x="565.21" y="1099" width="35.97" height="76" fill="none" stroke="#c6c6c6" stroke-width="1.3"/>
<rect x="565.21" y="1175" width="35.97" height="82" fill="none" stroke="#c6c6c6" stroke-width="1.3"/>
<rect x="565.21" y="1257" width="35.97" height="310.9" fill="none" stroke="#c6c6c6" stroke-width="1.3"/>
<rect x="601.18" y="926.6" width="35.97" height="25.65" fill="none" stroke="#c6c6c6" stroke-width="1.3"/>
<rect x="601.18" y="952.25" width="35.97" height="83" fill="none" stroke="#c6c6c6" stroke-width="1.3"/>
<rect x="601.18" y="1035.25" width="35.97" height="46.75" fill="none" stroke="#c6c6c6" stroke-width="1.3"/>
<rect x="601.18" y="1082" width="35.97" height="77.25" fill="none" stroke="#c6c6c6" stroke-width="1.3"/>
<rect x="601.18" y="1159.25" width="35.97" height="67.75" fill="none" stroke="#c6c6c6" stroke-width="1.3"/>
<rect x="601.18" y="1227" width="35.97" height="340.9" fill="none" stroke="#c6c6c6" stroke-width="1.3"/>
<rect x="637.15" y="926.6" width="35.97" height="20.15" fill="none" stroke="#c6c6c6" stroke-width="1.3"/>
<rect x="637.15" y="946.75" width="35.97" height="80.75" fill="none" stroke="#c6c6c6" stroke-width="1.3"/>
<rect x="637.15" y="1027.5" width="35.97" height="38.5" fill="none" stroke="#c6c6c6" stroke-width="1.3"/>
<rect x="637.15" y="1066" width="35.97" height="77.5" fill="none" stroke="#c6c6c6" stroke-width="1.3"/>
<rect x="637.15" y="1143.5" width="35.97" height="53.5" fill="none" stroke="#c6c6c6" stroke-width="1.3"/>
<rect x="637.15" y="1197" width="35.97" height="370.9" fill="none" stroke="#c6c6c6" stroke-width="1.3"/>
<rect x="673.12" y="926.6" width="35.97" height="14.65" fill="none" stroke="#c6c6c6" stroke-width="1.3"/>
<rect x="673.12" y="941.25" width="35.97" height="78.25" fill="none" stroke="#c6c6c6" stroke-width="1.3"/>
<rect x="673.12" y="1019.5" width="35.97" height="29.75" fill="none" stroke="#c6c6c6" stroke-width="1.3"/>
<rect x="673.12" y="1049.25" width="35.97" height="79" fill="none" stroke="#c6c6c6" stroke-width="1.3"/>
<rect x="673.12" y="1128.25" width="35.97" height="39" fill="none" stroke="#c6c6c6" stroke-width="1.3"/>
<rect x="673.12" y="1167.25" width="35.97" height="400.65" fill="none" stroke="#c6c6c6" stroke-width="1.3"/>
<rect x="709.09" y="926.6" width="35.97" height="9.65" fill="none" stroke="#c6c6c6" stroke-width="1.3"/>
<rect x="709.09" y="936.25" width="35.97" height="75" fill="none" stroke="#c6c6c6" stroke-width="1.3"/>
<rect x="709.09" y="1011.25" width="35.97" height="22" fill="none" stroke="#c6c6c6" stroke-width="1.3"/>
<rect x="709.09" y="1033.25" width="35.97" height="79.25" fill="none" stroke="#c6c6c6" stroke-width="1.3"/>
<rect x="709.09" y="1112.5" width="35.97" height="24.5" fill="none" stroke="#c6c6c6" stroke-width="1.3"/>
<rect x="709.09" y="1137" width="35.97" height="430.9" fill="none" stroke="#c6c6c6" stroke-width="1.3"/>
<rect x="745.06" y="926.6" width="35.97" height="4.65" fill="none" stroke="#c6c6c6" stroke-width="1.3"/>
<rect x="745.06" y="931.25" width="35.97" height="71.75" fill="none" stroke="#c6c6c6" stroke-width="1.3"/>
<rect x="745.06" y="1003" width="35.97" height="13.5" fill="none" stroke="#c6c6c6" stroke-width="1.3"/>
<rect x="745.06" y="1016.5" width="35.97" height="80.5" fill="none" stroke="#c6c6c6" stroke-width="1.3"/>
<rect x="745.06" y="1097" width="35.97" height="10.25" fill="none" stroke="#c6c6c6" stroke-width="1.3"/>
<rect x="745.06" y="1107.25" width="35.97" height="460.65" fill="none" stroke="#c6c6c6" stroke-width="1.3"/>
<rect x="781.03" y="926.6" width="35.97" height="67" fill="none" stroke="#c6c6c6" stroke-width="1.3"/>
<rect x="781.03" y="993.6" width="35.97" height="2.6" fill="none" stroke="#c6c6c6" stroke-width="1.3"/>
<rect x="781.03" y="996.2" width="35.97" height="81.05" fill="none" stroke="#c6c6c6" stroke-width="1.3"/>
<rect x="781.03" y="1077.25" width="35.97" height="490.65" fill="none" stroke="#c6c6c6" stroke-width="1.3"/>
<rect x="817" y="926.6" width="35.97" height="39.65" fill="none" stroke="#c6c6c6" stroke-width="1.3"/>
<rect x="817" y="966.25" width="35.97" height="72" fill="none" stroke="#c6c6c6" stroke-width="1.3"/>
<rect x="817" y="1038.25" width="35.97" height="529.65" fill="none" stroke="#c6c6c6" stroke-width="1.3"/>
<rect x="852.97" y="926.6" width="35.97" height="9.65" fill="none" stroke="#c6c6c6" stroke-width="1.3"/>
<rect x="852.97" y="936.25" width="35.97" height="63.15" fill="none" stroke="#c6c6c6" stroke-width="1.3"/>
<rect x="852.97" y="999.4" width="35.97" height="568.5" fill="none" stroke="#c6c6c6" stroke-width="1.3"/>
<rect x="888.94" y="926.6" width="35.97" height="30.9" fill="none" stroke="#c6c6c6" stroke-width="1.3"/>
<rect x="888.94" y="957.5" width="35.97" height="610.4" fill="none" stroke="#c6c6c6" stroke-width="1.3"/>
<rect x="924.91" y="926.6" width="35.97" height="641.3" fill="none" stroke="#c6c6c6" stroke-width="1.3"/>
<line x1="55.1" y1="923.5" x2="1176.8" y2="923.5" stroke="#000" stroke-width="1.6"/>
<line x1="55.1" y1="1572" x2="1176.8" y2="1572" stroke="#000" stroke-width="2"/>
<line x1="56.1" y1="923.5" x2="56.1" y2="1572" stroke="#000" stroke-width="2.1"/>
<line x1="1175.5" y1="923.5" x2="1175.5" y2="1572" stroke="#000" stroke-width="2.6"/>
<line x1="925.5" y1="923.5" x2="925.5" y2="1572" stroke="#000" stroke-width="2.6"/>
<line x1="133.57" y1="908.5" x2="133.57" y2="923.5" stroke="#000" stroke-width="1.5"/>
<line x1="133.57" y1="1572" x2="133.57" y2="1587.5" stroke="#000" stroke-width="1.5"/>
<line x1="349.39" y1="908.5" x2="349.39" y2="923.5" stroke="#000" stroke-width="1.5"/>
<line x1="349.39" y1="1572" x2="349.39" y2="1587.5" stroke="#000" stroke-width="1.5"/>
<line x1="565.21" y1="908.5" x2="565.21" y2="923.5" stroke="#000" stroke-width="1.5"/>
<line x1="565.21" y1="1572" x2="565.21" y2="1587.5" stroke="#000" stroke-width="1.5"/>
<line x1="781.03" y1="908.5" x2="781.03" y2="923.5" stroke="#000" stroke-width="1.5"/>
<line x1="781.03" y1="1572" x2="781.03" y2="1587.5" stroke="#000" stroke-width="1.5"/>
<line x1="996.85" y1="908.5" x2="996.85" y2="923.5" stroke="#000" stroke-width="1.5"/>
<line x1="996.85" y1="1572" x2="996.85" y2="1587.5" stroke="#000" stroke-width="1.5"/>
<text x="133.37" y="872" text-anchor="middle" class="t">0.0717</text>
<text x="133.37" y="1638.7" text-anchor="middle" class="t">−0.00247</text>
<text x="349.19" y="872" text-anchor="middle" class="t">0.0588</text>
<text x="349.19" y="1638.7" text-anchor="middle" class="t">−0.0017</text>
<text x="565.01" y="872" text-anchor="middle" class="t">0.0528</text>
<text x="565.01" y="1638.7" text-anchor="middle" class="t">−0.000928</text>
<text x="780.8299999999999" y="872" text-anchor="middle" class="t">0.0484</text>
<text x="780.8299999999999" y="1638.7" text-anchor="middle" class="t">−0.000157</text>
<line x1="41" y1="1568.4" x2="56" y2="1568.4" stroke="#000" stroke-width="1.5"/>
<text transform="translate(19.5,1568.5) rotate(-90)" text-anchor="middle" class="t">0.0</text>
<line x1="41" y1="1439.98" x2="56" y2="1439.98" stroke="#000" stroke-width="1.5"/>
<text transform="translate(19.5,1440.08) rotate(-90)" text-anchor="middle" class="t">0.2</text>
<line x1="41" y1="1311.56" x2="56" y2="1311.56" stroke="#000" stroke-width="1.5"/>
<text transform="translate(19.5,1311.66) rotate(-90)" text-anchor="middle" class="t">0.4</text>
<line x1="41" y1="1183.14" x2="56" y2="1183.14" stroke="#000" stroke-width="1.5"/>
<text transform="translate(19.5,1183.24) rotate(-90)" text-anchor="middle" class="t">0.6</text>
<line x1="41" y1="1054.72" x2="56" y2="1054.72" stroke="#000" stroke-width="1.5"/>
<text transform="translate(19.5,1054.82) rotate(-90)" text-anchor="middle" class="t">0.8</text>
<line x1="41" y1="926.3" x2="56" y2="926.3" stroke="#000" stroke-width="1.5"/>
<text transform="translate(19.5,926.4) rotate(-90)" text-anchor="middle" class="t">1.0</text>
<text x="56.4" y="914" class="b">Target Risk</text>
<text x="56.4" y="1610.2" class="b">Target Return</text>
<text transform="translate(40.4,1563.7) rotate(-90)" class="b">Weights</text>
<text transform="translate(1198,1571.3) rotate(-90)" class="r">Rmetrics</text>
<rect x="1098.95" y="968.65" width="11" height="30" fill="#4BAC7F" stroke="#000" stroke-width="1.2"/>
<text x="1123.5" y="988.1" class="l">BTC</text>
<rect x="1098.95" y="1028.95" width="11" height="30" fill="#DF601B" stroke="#000" stroke-width="1.2"/>
<text x="1123.5" y="1048.4" class="l">ETH</text>
<rect x="1098.95" y="1089.25" width="11" height="30" fill="#8E7168" stroke="#000" stroke-width="1.2"/>
<text x="1123.5" y="1108.7" class="l">BCH</text>
<rect x="1098.95" y="1149.55" width="11" height="30" fill="#9955CF" stroke="#000" stroke-width="1.2"/>
<text x="1123.5" y="1169" class="l">ETC</text>
<rect x="1098.95" y="1209.85" width="11" height="30" fill="#E03784" stroke="#000" stroke-width="1.2"/>
<text x="1123.5" y="1229.3" class="l">LTC</text>
<rect x="1098.95" y="1270.15" width="11" height="30" fill="#6EA636" stroke="#000" stroke-width="1.2"/>
<text x="1123.5" y="1289.6" class="l">ADA</text>
<rect x="1098.95" y="1330.45" width="11" height="30" fill="#B5C42F" stroke="#000" stroke-width="1.2"/>
<text x="1123.5" y="1349.9" class="l">XRP</text>
<rect x="1098.95" y="1390.75" width="11" height="30" fill="#DB942A" stroke="#000" stroke-width="1.2"/>
<text x="1123.5" y="1410.2" class="l">MIOTA</text>
<rect x="1098.95" y="1451.05" width="11" height="30" fill="#8B732F" stroke="#000" stroke-width="1.2"/>
<text x="1123.5" y="1470.5" class="l">XLM</text>
<rect x="1098.95" y="1511.35" width="11" height="30" fill="#676867" stroke="#000" stroke-width="1.2"/>
<text x="1123.5" y="1530.8" class="l">NANO</text>
</svg></body></html>
